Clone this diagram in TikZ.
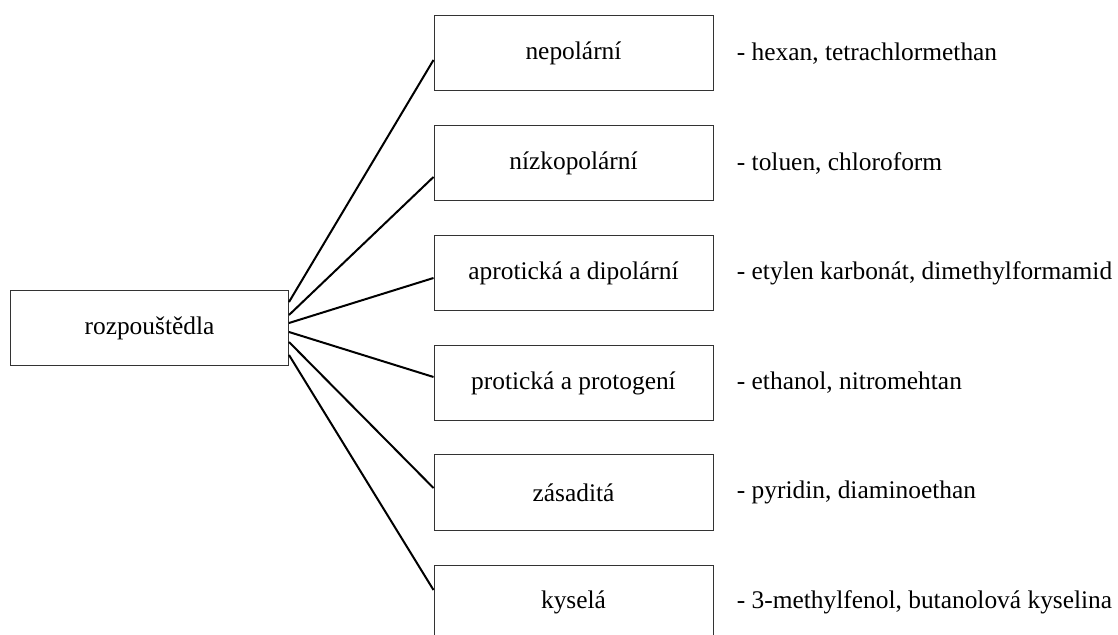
\documentclass[tikz,border=0pt]{standalone}
\usepackage{fontspec}
\setmainfont{Liberation Serif}
\usetikzlibrary{positioning}

\tikzset{
  rootbox/.style={draw=black!80, line width=0.5pt, minimum width=139pt, minimum height=37.5pt, inner sep=0pt},
  groupbox/.style={draw=black!80, line width=0.5pt, minimum width=139.5pt, minimum height=37.5pt, inner sep=0pt},
  example/.style={anchor=west, inner sep=0pt},
  branch/.style={line width=1pt}
}

\begin{document}
\begin{tikzpicture}[x=0.5pt, y=-0.5pt, font=\fontsize{12.7pt}{15pt}\selectfont]
    \useasboundingbox (0,0) rectangle (1118,635);

    % Hlavní uzel vlevo
    \node[rootbox] (root) at (149.5,328) {rozpouštědla};

    % Skupiny rozpouštědel
    \node[groupbox] (nep) at (573.5,53.5) {nepolární};
    \node[groupbox] (niz) at (573.5,163.5) {nízkopolární};
    \node[groupbox] (apr) at (573.5,273.5) {aprotická a dipolární};
    \node[groupbox] (pro) at (573.5,383) {protická a protogení};
    \node[groupbox] (zas) at (573.5,492.5) {zásaditá};
    \node[groupbox] (kys) at (573.5,602.5) {kyselá};

    % Příklady vpravo od skupin
    \node[example, right=11.5pt of nep] (nepex) {- hexan, tetrachlormethan};
    \node[example, right=11.5pt of niz] (nizex) {- toluen, chloroform};
    \node[example, right=11.5pt of apr] (aprex) {- etylen karbonát, dimethylformamid};
    \node[example, right=11.5pt of pro] (proex) {- ethanol, nitromehtan};
    \node[example, right=11.5pt of zas] (zasex) {- pyridin, diaminoethan};
    \node[example, right=11.5pt of kys] (kysex) {- 3-methylfenol, butanolová kyselina};

    % Spojnice z hlavního uzlu
    \draw[branch] ([yshift=13pt]root.east) -- ([yshift=-3.25pt]nep.west);
    \draw[branch] ([yshift=6.5pt]root.east) -- ([yshift=-6.75pt]niz.west);
    \draw[branch] ([yshift=2.5pt]root.east) -- ([yshift=-2.25pt]apr.west);
    \draw[branch] ([yshift=-2pt]root.east) -- ([yshift=3pt]pro.west);
    \draw[branch] ([yshift=-7pt]root.east) -- ([yshift=2.25pt]zas.west);
    \draw[branch] ([yshift=-13.5pt]root.east) -- ([yshift=6.25pt]kys.west);
\end{tikzpicture}
\end{document}
